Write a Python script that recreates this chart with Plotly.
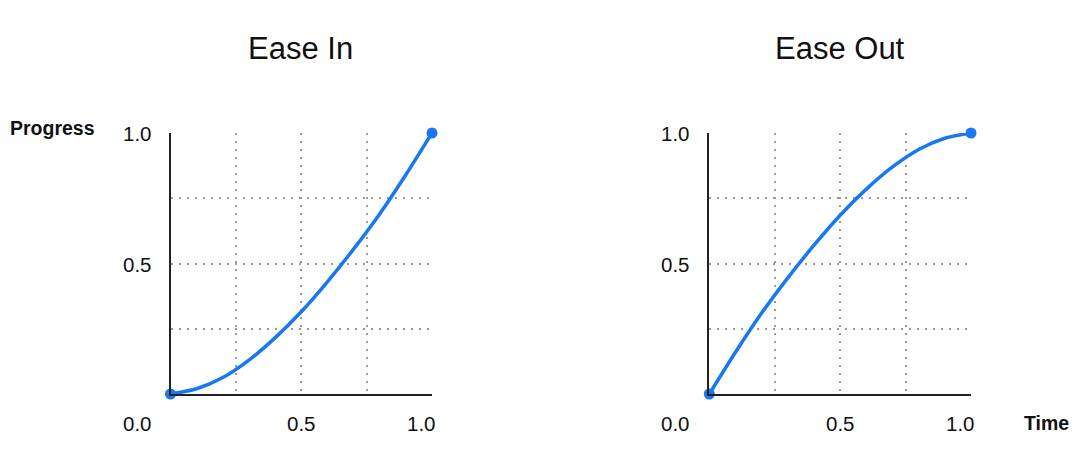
import plotly.graph_objects as go
from plotly.subplots import make_subplots

# ---- data ----
time_pts = [0.0, 0.1, 0.2, 0.3, 0.4, 0.5, 0.6, 0.7, 0.8, 0.9, 1.0]
ease_in = [0.0, 0.02, 0.063, 0.13, 0.215, 0.315, 0.43, 0.555, 0.69, 0.84, 1.0]
ease_out = [0.0, 0.16, 0.31, 0.445, 0.57, 0.685, 0.785, 0.87, 0.937, 0.98, 1.0]
titles = ["Ease In", "Ease Out"]
tick_vals = [0.5, 1.0]
tick_text = ["0.5", "1.0"]
origin_label = "0.0"
grid_vals = [0.25, 0.5, 0.75]
y_axis_label = "Progress"
x_axis_label = "Time"

# page body has an 8px margin; figure sized to fit inside the 1080x451 window
OFF = 8
W, H = 1080 - 2 * OFF, 451 - 2 * OFF
BLUE = "#1877F2"
FONT = "Liberation Sans, Arial, sans-serif"
TXT = "#111111"


def px(x):
    return (x - OFF) / W


def py(y):
    return 1 - (y - OFF) / H


fig = make_subplots(rows=1, cols=2)

for i, ys in enumerate([ease_in, ease_out], start=1):
    fig.add_trace(go.Scatter(x=time_pts, y=ys, mode="lines",
                             line=dict(color=BLUE, width=3.5, shape="spline", smoothing=0.8),
                             cliponaxis=False, showlegend=False, hoverinfo="skip"),
                  row=1, col=i)
    fig.add_trace(go.Scatter(x=[time_pts[0], time_pts[-1]], y=[ys[0], ys[-1]], mode="markers",
                             marker=dict(color=BLUE, size=11),
                             cliponaxis=False, showlegend=False, hoverinfo="skip"),
                  row=1, col=i)

x_domains = [[px(170.5), px(432)], [px(709.3), px(971)]]
y_domain = [py(394), py(133)]

axis_common = dict(
    range=[0, 1], showline=True, linecolor="#222222", linewidth=2,
    showgrid=False, zeroline=False, showticklabels=False, ticks="",
    tickvals=tick_vals,
    minor=dict(tickvals=grid_vals, showgrid=True, gridcolor="#9a9a9a",
               gridwidth=2, griddash="2px,6px", ticks=""),
    fixedrange=True,
)

for i in range(2):
    xa = "xaxis" if i == 0 else "xaxis2"
    ya = "yaxis" if i == 0 else "yaxis2"
    fig.layout[xa].update(domain=x_domains[i], **axis_common)
    fig.layout[ya].update(domain=y_domain, **axis_common)

TICK_SIZE = 20.5
LABEL_SIZE = 19.5
annotations = []
title_x = [300.3, 840.0]
for i, t in enumerate(titles):
    annotations.append(dict(text=t, x=px(title_x[i]), y=py(48.8), xref="paper", yref="paper",
                            xanchor="center", yanchor="middle", showarrow=False,
                            font=dict(size=31, family=FONT, color=TXT)))

for i in range(2):
    xr = "x" if i == 0 else "x2"
    yr = "y" if i == 0 else "y2"
    for v, s in zip(tick_vals, tick_text):
        annotations.append(dict(text=s, x=0, y=v, xref=xr, yref=yr, xanchor="right", yanchor="middle",
                                xshift=-17, yshift=-1, showarrow=False,
                                font=dict(size=TICK_SIZE, family=FONT, color=TXT)))
    for v, s in zip(tick_vals, tick_text):
        shift = -11 if v == 1.0 else 0
        annotations.append(dict(text=s, x=v, y=0, xref=xr, yref=yr, xanchor="center", yanchor="middle",
                                xshift=shift, yshift=-29, showarrow=False,
                                font=dict(size=TICK_SIZE, family=FONT, color=TXT)))
    annotations.append(dict(text=origin_label, x=0, y=0, xref=xr, yref=yr, xanchor="right",
                            yanchor="middle", xshift=-17, yshift=-29, showarrow=False,
                            font=dict(size=TICK_SIZE, family=FONT, color=TXT)))

annotations.append(dict(text="<b>" + y_axis_label + "</b>", x=0, y=py(128),
                        xref="paper", yref="paper", xanchor="left", yanchor="middle",
                        showarrow=False, font=dict(size=LABEL_SIZE, family=FONT, color=TXT)))
annotations.append(dict(text="<b>" + x_axis_label + "</b>", x=px(1022), y=py(423),
                        xref="paper", yref="paper", xanchor="left", yanchor="middle",
                        showarrow=False, font=dict(size=LABEL_SIZE, family=FONT, color=TXT)))

fig.update_layout(
    width=W, height=H, margin=dict(l=0, r=0, t=0, b=0),
    paper_bgcolor="white", plot_bgcolor="white",
    annotations=annotations, showlegend=False,
    font=dict(family=FONT),
)

fig.write_html("out.html")
